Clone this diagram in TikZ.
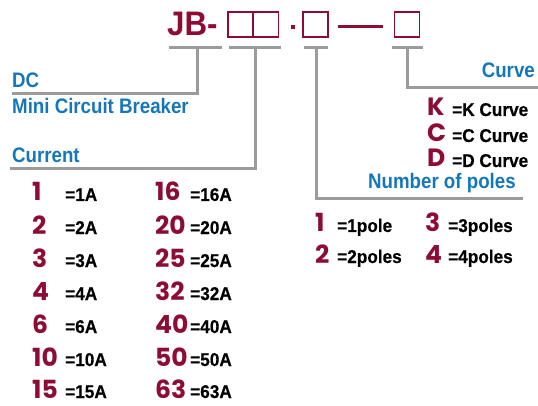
\documentclass[tikz,border=0pt]{standalone}
\usepackage{fontspec}
\newfontfamily\labf[FakeStretch=0.89]{Liberation Sans}
\newfontfamily\valf[FakeStretch=0.93, FakeBold=0.4]{Liberation Sans}
\newfontfamily\jbf[FakeStretch=0.92]{Liberation Sans}
\newfontfamily\numf{Poppins}
\definecolor{cred}{HTML}{8C0C33}
\definecolor{cblue}{HTML}{1577BA}
\definecolor{cgray}{HTML}{9B9B9B}
\tikzset{
  lbl/.style={font=\labf\bfseries\fontsize{21}{24}\selectfont, text=cblue, inner sep=0pt, anchor=base west},
  val/.style={font=\valf\bfseries\fontsize{18.5}{20}\selectfont, text=black, inner sep=0pt, anchor=base west},
  num/.style={font=\numf\bfseries\fontsize{25}{26}\selectfont, text=cred, inner sep=0pt, anchor=base west},
  codebox/.style={draw=cred, line width=1.4pt, minimum width=25pt, minimum height=25pt, inner sep=0pt},
  lead/.style={draw=cgray, line width=3pt}
}
\begin{document}
\begin{tikzpicture}[x=1pt,y=-1pt]
\useasboundingbox (0,0) rectangle (538,406);
% code line
\node[font=\jbf\bfseries\fontsize{34}{36}\selectfont, text=cred, inner sep=0pt, anchor=base west] (jb) at (167,36) {JB-};
\node[codebox] (b1) at (240.5,24.5) {};
\node[codebox] (b2) at (266,24.5) {};
\node[fill=cred, inner sep=0pt, minimum width=4pt, minimum height=4pt] (dot) at (293,27.5) {};
\node[codebox] (b3) at (315.5,24.5) {};
\node[fill=cred, inner sep=0pt, minimum width=45pt, minimum height=3pt] (dash) at (360.5,27) {};
\node[codebox] (b4) at (407,24.5) {};
% leaders
\coordinate (t1l) at (169,48); \coordinate (t1r) at (222,48); \coordinate (t1m) at (197,48); \coordinate (e1) at (12,94);
\coordinate (t2l) at (229,48); \coordinate (t2r) at (281,48); \coordinate (t2m) at (255,48); \coordinate (e2) at (10,168.5);
\coordinate (t3l) at (304,48); \coordinate (t3r) at (328,48); \coordinate (t3m) at (316,48); \coordinate (e3) at (523,198.5);
\coordinate (t4l) at (392,48); \coordinate (t4r) at (423,48); \coordinate (t4m) at (407,48); \coordinate (e4) at (538,88);
\draw[lead] (t1l) -- (t1r); \draw[lead] (t1m) |- (e1);
\draw[lead] (t2l) -- (t2r); \draw[lead] (t2m) |- (e2);
\draw[lead] (t3l) -- (t3r); \draw[lead] (t3m) |- (e3);
\draw[lead] (t4l) -- (t4r); \draw[lead] (t4m) |- (e4);
% labels
\node[lbl] (dc) at (12,88) {DC};
\node[lbl] (mcb) at (12,114) {Mini Circuit Breaker};
\node[lbl] (cur) at (12,163) {Current};
\node[lbl, anchor=base east] (crv) at (535,78) {Curve};
\node[lbl] (nop) at (368,189) {Number of poles};
% curves
\node[num] (k) at (427,116) {K}; \node[val] (kv) at (452,116) {=K Curve};
\node[num] (c) at (427,142) {C}; \node[val] (cv) at (452,142) {=C Curve};
\node[num] (d) at (427,167) {D}; \node[val] (dv) at (452,167) {=D Curve};
% current values
\foreach \a/\b/\y [count=\i] in {1/16/201, 2/20/234, 3/25/267, 4/32/300, 6/40/333, 10/50/366, 15/63/398}{
  \node[num] (l\i) at (32,\y) {\a};
  \node[val] (lv\i) at (65,\y) {=\a A};
  \node[num] (r\i) at (155,\y) {\b};
  \node[val] (rv\i) at (190,\y) {=\b A};
}
% poles
\node[num] (p1) at (315,232) {1}; \node[val] (p1v) at (337,232) {=1pole};
\node[num] (p2) at (315,263) {2}; \node[val] (p2v) at (337,263) {=2poles};
\node[num] (p3) at (425,232) {3}; \node[val] (p3v) at (448,232) {=3poles};
\node[num] (p4) at (425,263) {4}; \node[val] (p4v) at (448,263) {=4poles};
\end{tikzpicture}
\end{document}
